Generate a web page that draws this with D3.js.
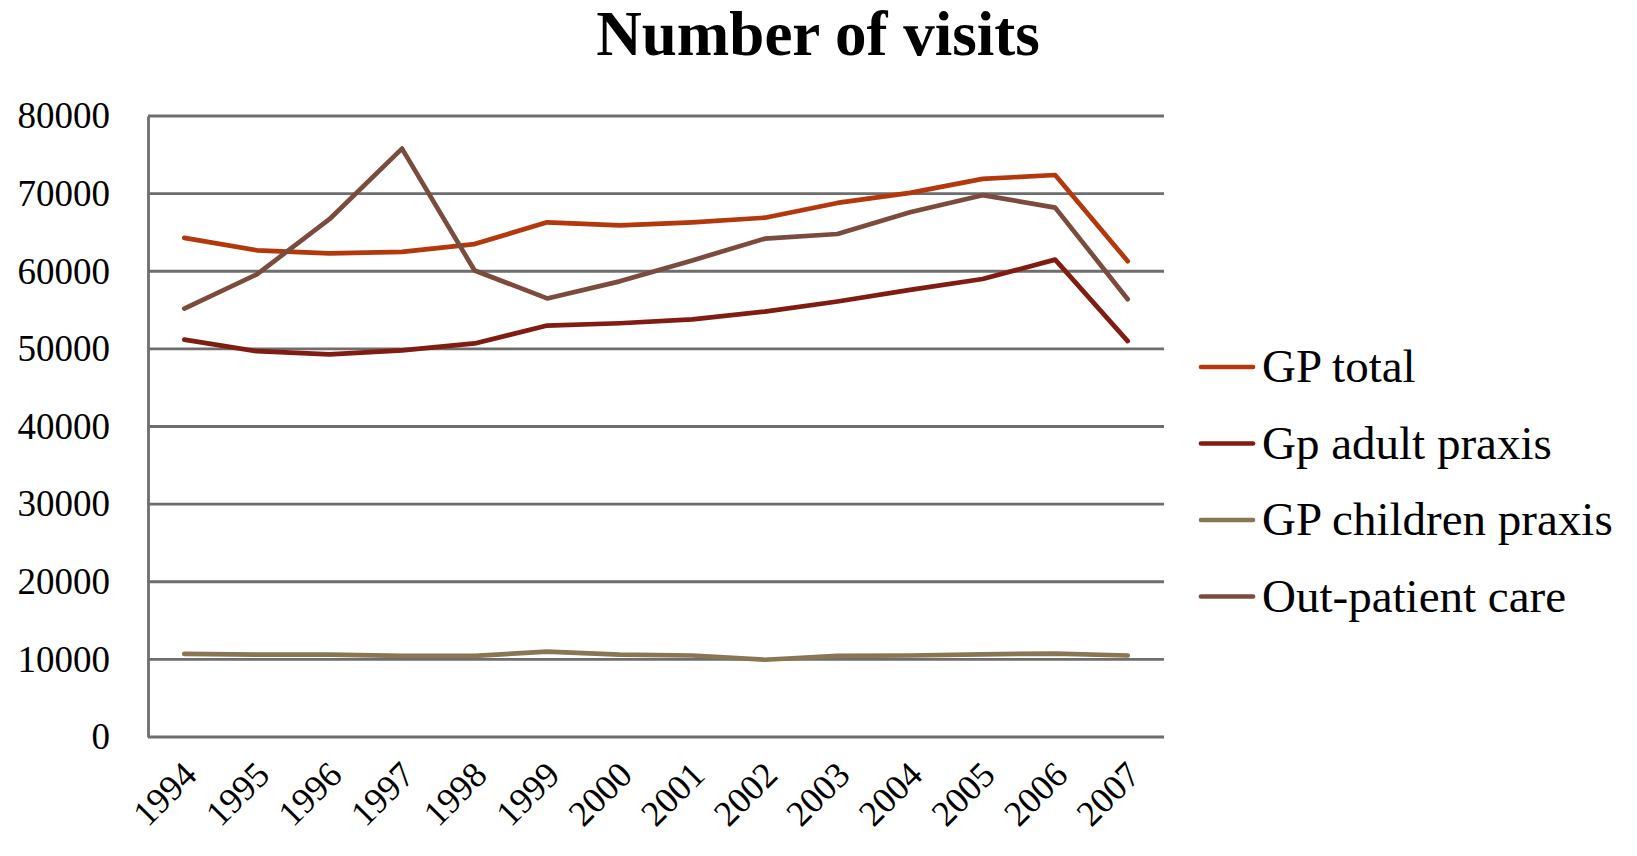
<!DOCTYPE html>
<html>
<head>
<meta charset="utf-8">
<script src="https://cdn.jsdelivr.net/npm/d3@7"></script>
<style>
  body { margin: 0; background: #fff; }
  svg { display: block; }
  text { font-family: "Liberation Serif", "DejaVu Serif", serif !important; fill: #000; }
</style>
</head>
<body>
<svg id="chart" width="1637" height="856"></svg>
<script>
// data
const years = ["1994","1995","1996","1997","1998","1999","2000","2001","2002","2003","2004","2005","2006","2007"];
const gpTotal = [64300, 62700, 62300, 62500, 63500, 66300, 65900, 66300, 66900, 68800, 70100, 71900, 72400, 61300];
const gpAdult = [51200, 49700, 49300, 49800, 50700, 53000, 53300, 53800, 54800, 56100, 57600, 59000, 61500, 51000];
const gpChildren = [10700, 10600, 10600, 10450, 10450, 11000, 10600, 10500, 9950, 10450, 10500, 10650, 10750, 10500];
const outPatient = [55200, 59600, 66700, 75800, 60100, 56500, 58700, 61400, 64200, 64800, 67600, 69800, 68200, 56400];
const yTicks = [0, 10000, 20000, 30000, 40000, 50000, 60000, 70000, 80000];

const series = [
    {name: "GP total", values: gpTotal, color: "#b3380c"},
    {name: "Gp adult praxis", values: gpAdult, color: "#801c12"},
    {name: "GP children praxis", values: gpChildren, color: "#8a7652"},
    {name: "Out-patient care", values: outPatient, color: "#7b4b3d"}
];

const diagram = {
    svg: d3.select("#chart"),
    plot: {left: 148, right: 1164, top: 116, bottom: 737}
};

const x = d3.scalePoint()
    .domain(years)
    .range([diagram.plot.left, diagram.plot.right])
    .padding(0.5);

const y = d3.scaleLinear()
    .domain([0, 80000])
    .range([diagram.plot.bottom, diagram.plot.top]);

const svg = diagram.svg;

//title
svg.append("text")
    .attr("x", 818)
    .attr("y", 55)
    .attr("text-anchor", "middle")
    .style("font-size", "63px")
    .style("font-weight", "bold")
    .text("Number of visits");

//gridlines
svg.append("g")
    .selectAll("line")
    .data(yTicks)
    .join("line")
    .attr("x1", diagram.plot.left)
    .attr("x2", diagram.plot.right)
    .attr("y1", d => y(d))
    .attr("y2", d => y(d))
    .attr("stroke", "#6e6e6e")
    .attr("stroke-width", 2.8);

//y axis
let yAxis = svg.append("g")
    .attr("transform", `translate(${diagram.plot.left},0)`)
    .call(d3.axisLeft(y).tickValues(yTicks).tickSize(0).tickPadding(38).tickFormat(d3.format("d")));
yAxis.select(".domain").attr("stroke", "#6e6e6e").attr("stroke-width", 2.8);
yAxis.selectAll("text")
    .style("font-size", "37px");

//x axis
let xAxis = svg.append("g")
    .attr("transform", `translate(0,${diagram.plot.bottom})`)
    .call(d3.axisBottom(x).tickSize(0));
xAxis.select(".domain").remove();
xAxis.selectAll("text")
    .style("font-size", "36px")
    .attr("text-anchor", "end")
    .attr("dy", null)
    .attr("y", 0)
    .attr("transform", "translate(14,40) rotate(-45)");

//lines
const line = d3.line()
    .x((d, i) => x(years[i]))
    .y(d => y(d));

svg.append("g")
    .selectAll("path")
    .data(series)
    .join("path")
    .attr("d", d => line(d.values))
    .attr("fill", "none")
    .attr("stroke", d => d.color)
    .attr("stroke-width", 4.7)
    .attr("stroke-linejoin", "round")
    .attr("stroke-linecap", "round");

//legend
let legend = svg.append("g")
    .selectAll("g")
    .data(series)
    .join("g")
    .attr("transform", (d, i) => `translate(1201,${367 + i * 76.5})`);

legend.append("line")
    .attr("x1", 0)
    .attr("x2", 52)
    .attr("stroke", d => d.color)
    .attr("stroke-width", 4.7)
    .attr("stroke-linecap", "round");

legend.append("text")
    .attr("x", 61)
    .attr("y", 15)
    .style("font-size", "47px")
    .text(d => d.name);
</script>
</body>
</html>
